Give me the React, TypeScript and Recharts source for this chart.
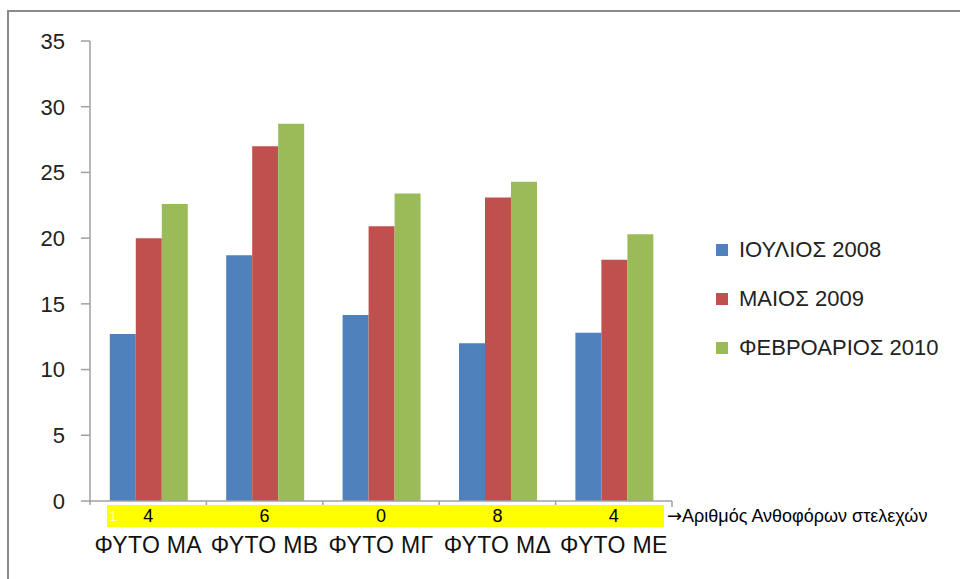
import React from 'react';
import { BarChart, Bar, XAxis, YAxis, Legend } from 'recharts';

const categories = ['ΦΥΤΟ ΜΑ', 'ΦΥΤΟ ΜΒ', 'ΦΥΤΟ ΜΓ', 'ΦΥΤΟ ΜΔ', 'ΦΥΤΟ ΜΕ'];
const july2008 = [12.7, 18.7, 14.15, 12.0, 12.8];
const may2009 = [20.0, 27.0, 20.9, 23.1, 18.35];
const feb2010 = [22.6, 28.7, 23.4, 24.3, 20.3];
const stems = [4, 6, 0, 8, 4];
const yTicks = [0, 5, 10, 15, 20, 25, 30, 35];

const seriesNames = ['ΙΟΥΛΙΟΣ 2008', 'ΜΑΙΟΣ 2009', 'ΦΕΒΡΟΑΡΙΟΣ 2010'];
const colors = ['#4F81BD', '#C0504D', '#9BBB59'];

const data = categories.map((name, i) => ({
  name,
  a: july2008[i],
  b: may2009[i],
  c: feb2010[i],
  stems: stems[i],
}));

const FONT = '"Liberation Sans", Arial, sans-serif';
const AXIS = '#a0a0a0';

const CatTick = (props: any) => {
  const { x, y, payload, index, visibleTicksCount } = props;
  const axisY = y - 8;
  const half = payload && payload.offset ? payload.offset : 58.2;
  const last = index === (visibleTicksCount ? visibleTicksCount - 1 : categories.length - 1);
  return (
    <g>
      <line x1={x - half} x2={x - half} y1={axisY} y2={axisY + 4} stroke={AXIS} strokeWidth={1.5} />
      {last && <line x1={x + half} x2={x + half} y1={axisY} y2={axisY + 6} stroke={AXIS} strokeWidth={1.5} />}
      <text x={x} y={axisY + 21} textAnchor="middle" fontSize={18} fontFamily={FONT} fill="#000">
        {stems[index]}
      </text>
      <text x={x} y={axisY + 52} textAnchor="middle" fontSize={23} letterSpacing={0.3} fontFamily={FONT} fill="#111">
        {payload.value}
      </text>
    </g>
  );
};

const LegendContent = () => (
  <div style={{ fontFamily: FONT }}>
    {seriesNames.map((n, i) => (
      <div key={n} style={{ display: 'flex', alignItems: 'center', height: 49 }}>
        <div style={{ width: 12, height: 12, background: colors[i], marginRight: 11 }} />
        <span style={{ fontSize: 22, color: '#222', whiteSpace: 'nowrap' }}>{n}</span>
      </div>
    ))}
  </div>
);

export default function App() {
  return (
    <div style={{ position: 'absolute', left: 0, top: 0, width: 960, height: 579, overflow: 'hidden', background: '#fff' }}>
      <div style={{ position: 'absolute', left: 7, top: 10, width: 1000, height: 1000, borderTop: '2.5px solid #8a8a8a', borderLeft: '2.5px solid #8a8a8a' }} />
      <div style={{ position: 'absolute', left: 107, top: 505, width: 557, height: 22, background: '#ffff00' }}>
        <span style={{ position: 'absolute', left: 2, top: 2, fontSize: 15, fontFamily: FONT, color: '#ffffb0' }}>1</span>
      </div>
      <div style={{ position: 'absolute', left: 667, top: 505, fontSize: 18, fontFamily: FONT, color: '#000', whiteSpace: 'nowrap' }}>
        <span style={{ fontFamily: '"DejaVu Sans", sans-serif', fontSize: 18 }}>→</span>Αριθμός Ανθοφόρων στελεχών
      </div>
      <div style={{ position: 'absolute', left: 0, top: 0 }}>
        <BarChart
          width={960}
          height={579}
          data={data}
          margin={{ top: 41, right: 288, bottom: 8, left: 30 }}
          barCategoryGap="17%"
          barGap={0}
        >
          <XAxis
            dataKey="name"
            height={70}
            interval={0}
            tickLine={false}
            axisLine={{ stroke: AXIS, strokeWidth: 1.5 }}
            tick={<CatTick />}
          />
          <YAxis
            domain={[0, 35]}
            ticks={yTicks}
            width={60}
            tickSize={9}
            tickMargin={16}
            axisLine={{ stroke: AXIS, strokeWidth: 1.5 }}
            tickLine={{ stroke: AXIS, strokeWidth: 1.5 }}
            tick={{ fontSize: 22, fill: '#222', fontFamily: FONT }}
          />
          <Legend
            layout="vertical"
            align="center"
            verticalAlign="middle"
            content={<LegendContent />}
            wrapperStyle={{ left: 716, top: 225, width: 240 }}
          />
          <Bar dataKey="a" name={seriesNames[0]} fill={colors[0]} isAnimationActive={false} />
          <Bar dataKey="b" name={seriesNames[1]} fill={colors[1]} isAnimationActive={false} />
          <Bar dataKey="c" name={seriesNames[2]} fill={colors[2]} isAnimationActive={false} />
        </BarChart>
      </div>
    </div>
  );
}
